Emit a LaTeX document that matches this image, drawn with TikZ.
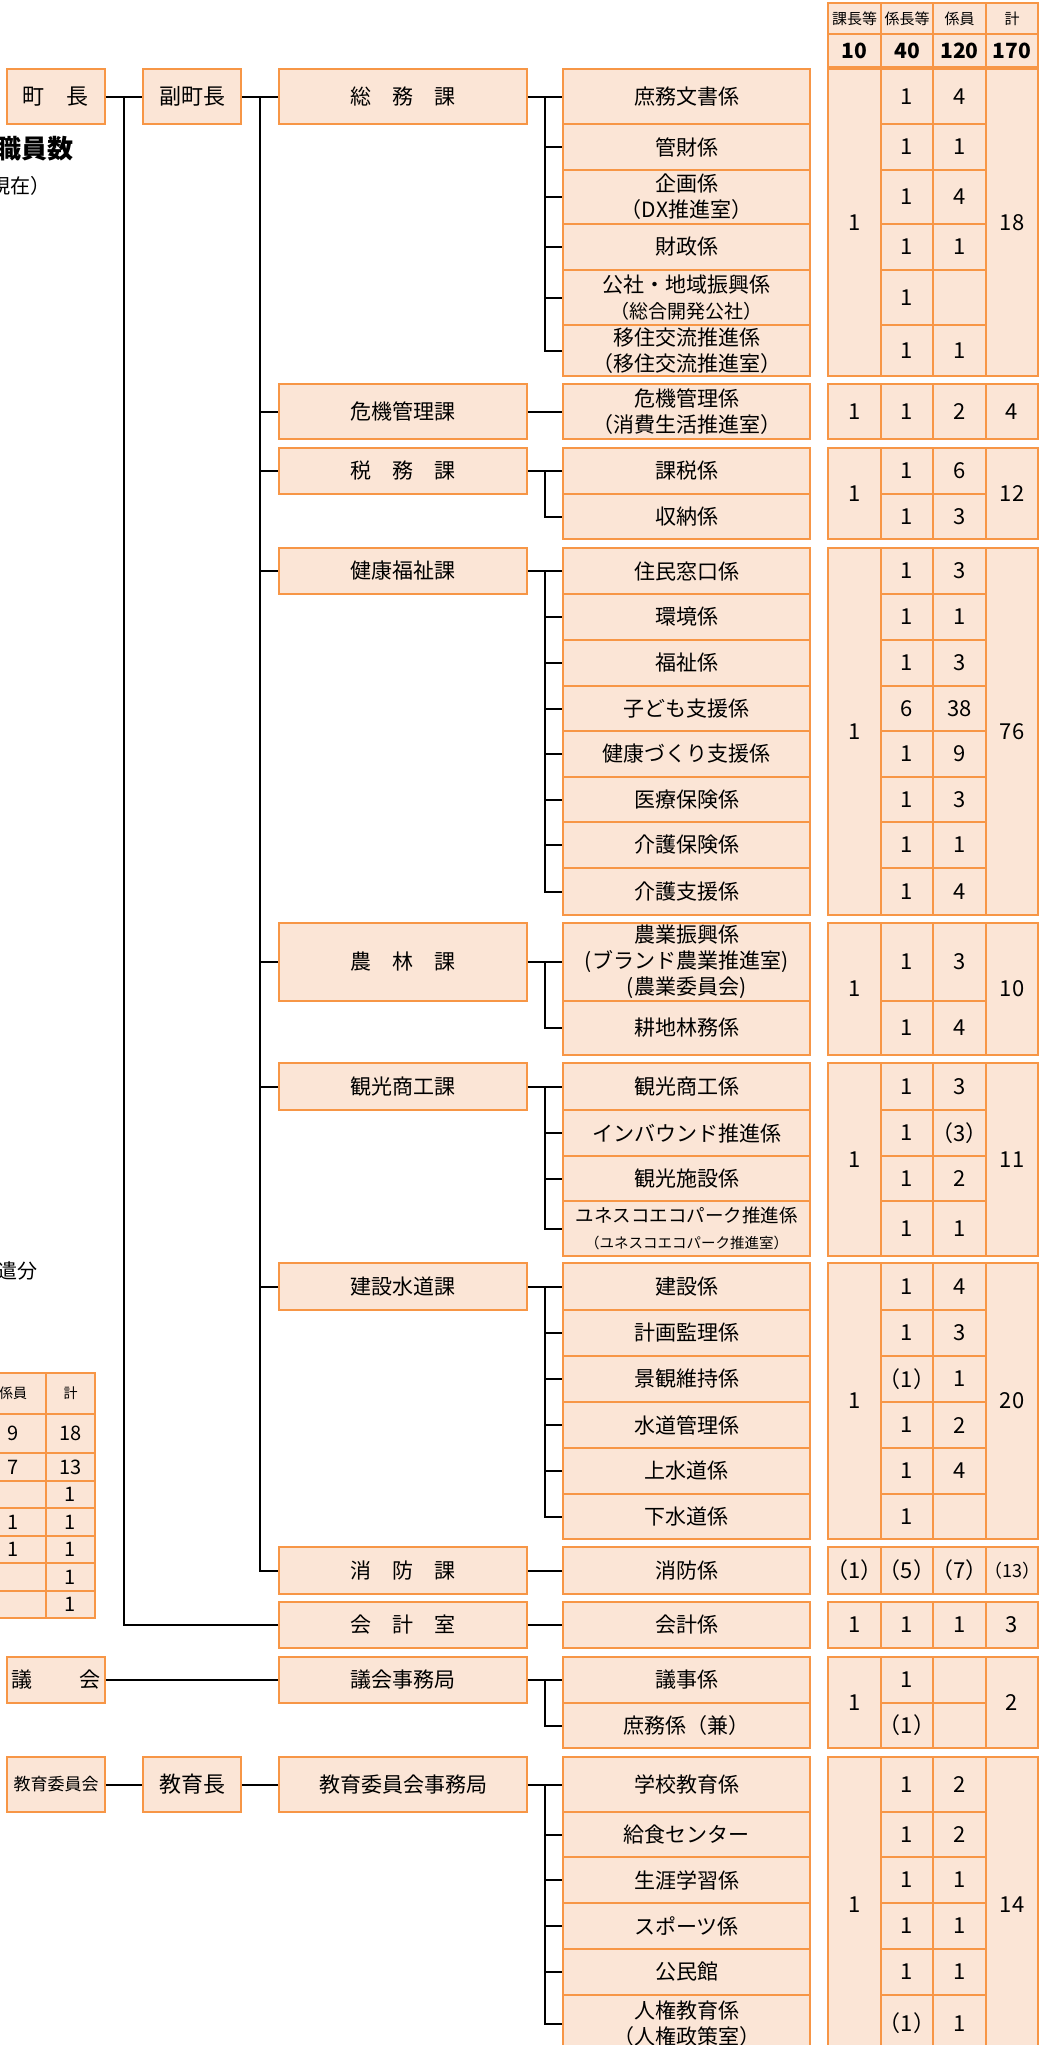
\documentclass[tikz,border=0pt]{standalone}
\usepackage{fontspec}
\setmainfont{Noto Sans CJK JP}
\usepackage{tikz}
\definecolor{waku}{HTML}{F79646}
\definecolor{hada}{HTML}{FBE5D6}
\newcounter{kz}
\tikzset{
  hako/.style={draw=waku, fill=hada, line width=1.5pt, inner sep=0pt, align=center, font=\fontsize{21}{26}\selectfont},
  masu/.style={draw=waku, fill=hada, line width=1.5pt},
  kazu/.style={inner sep=0pt, font=\fontsize{22}{26}\selectfont},
  sen/.style={line width=2pt},
}
% box from (x1,y1) to (x2,y2)
\newcommand{\hakobox}[6]{\node[hako, minimum width={#4-#2}, minimum height={#5-#3}] (#1) at ({(#2+#4)/2},{(#3+#5)/2}) {#6};}
\newcommand{\masubox}[6][]{\draw[masu] (#2,#3) rectangle (#4,#5); \stepcounter{kz}\node[kazu,#1] (kz\arabic{kz}) at ({(#2+#4)/2},{(#3+#5)/2}) {#6};}
% section: ka node, top, bottom, kacho, total, rows
\newcommand{\kakari}[6]{%
  \masubox{828}{#2}{881}{#3}{#4}
  \masubox{986}{#2}{1038}{#3}{#5}
  \foreach \nm/\ya/\yb/\txt/\va/\vb [count=\cnt] in {#6} {
    \hakobox{\nm}{563}{\ya}{810}{\yb}{\txt}
    \masubox{881}{\ya}{933}{\yb}{\va}
    \masubox{933}{\ya}{986}{\yb}{\vb}
    \ifnum\cnt=1 \draw[sen] (#1.east) -- (\nm.west); \else \draw[sen] (#1.east -| bunki) |- (\nm.west); \fi
  }
}

\begin{document}
\begin{tikzpicture}[x=1pt,y=-1pt]
  \useasboundingbox (0,0) rectangle (1051,2045);
  \clip (0,0) rectangle (1051,2045);
  \coordinate (miki1) at (124,0);
  \coordinate (miki2) at (260,0);
  \coordinate (bunki) at (545,0);

  \node[font=\fontsize{26}{30}\selectfont\bfseries, anchor=east, inner sep=0pt] (midashi) at (74,149) {職員数};
  \node[font=\fontsize{20}{24}\selectfont, anchor=east, inner sep=0pt] (genzai) at (51,186) {現在）};
  \node[font=\fontsize{20}{24}\selectfont, anchor=east, inner sep=0pt] (haken) at (38,1271) {遣分};

  % header
  \masubox[font=\fontsize{15}{18}\selectfont]{828}{3}{881}{34}{課長等}
  \masubox[font=\fontsize{15}{18}\selectfont]{881}{3}{933}{34}{係長等}
  \masubox[font=\fontsize{15}{18}\selectfont]{933}{3}{986}{34}{係員}
  \masubox[font=\fontsize{15}{18}\selectfont]{986}{3}{1038}{34}{計}
  \masubox[font=\fontsize{21}{24}\selectfont\bfseries]{828}{34}{881}{67}{10}
  \masubox[font=\fontsize{21}{24}\selectfont\bfseries]{881}{34}{933}{67}{40}
  \masubox[font=\fontsize{21}{24}\selectfont\bfseries]{933}{34}{986}{67}{120}
  \masubox[font=\fontsize{21}{24}\selectfont\bfseries]{986}{34}{1038}{67}{170}

  % left table
  \masubox[font=\fontsize{14}{17}\selectfont]{-20}{1373}{46}{1414}{係員}
  \masubox[font=\fontsize{14}{17}\selectfont]{46}{1373}{95}{1414}{計}
  \foreach \ya/\yb/\va/\vb in {1414/1453/9/18, 1453/1481/7/13, 1481/1508//1, 1508/1536/1/1, 1536/1563/1/1, 1563/1591//1, 1591/1618//1} {
    \masubox[font=\fontsize{20}{24}\selectfont]{-20}{\ya}{46}{\yb}{\va}
    \masubox[font=\fontsize{20}{24}\selectfont]{46}{\ya}{95}{\yb}{\vb}
  }

  \hakobox{chocho}{7}{69}{105}{124}{\fontsize{22}{26}\selectfont 町　長}
  \hakobox{fuku}{143}{69}{241}{124}{\fontsize{22}{26}\selectfont 副町長}
  \hakobox{gikai}{7}{1657}{105}{1703}{議\hspace{47pt}会}
  \hakobox{kyoi}{7}{1757}{105}{1812}{\fontsize{17}{20}\selectfont 教育委員会}
  \hakobox{kyoikucho}{143}{1757}{241}{1812}{\fontsize{22}{26}\selectfont 教育長}

  \hakobox{somu}{279}{69}{527}{124}{総　務　課}
  \hakobox{kiki}{279}{384}{527}{439}{危機管理課}
  \hakobox{zeimu}{279}{448}{527}{494}{税　務　課}
  \hakobox{kenko}{279}{548}{527}{594}{健康福祉課}
  \hakobox{norin}{279}{923}{527}{1001}{農　林　課}
  \hakobox{kanko}{279}{1063}{527}{1110}{観光商工課}
  \hakobox{kensetsu}{279}{1263}{527}{1310}{建設水道課}
  \hakobox{shobo}{279}{1547}{527}{1594}{消　防　課}
  \hakobox{kaikei}{279}{1602}{527}{1648}{会　計　室}
  \hakobox{gikaijim}{279}{1657}{527}{1703}{議会事務局}
  \hakobox{kyoijim}{279}{1757}{527}{1812}{教育委員会事務局}

  \draw[sen] (chocho) -- (fuku);
  \draw[sen] (chocho.east -| miki1) |- (kaikei.west);
  \draw[sen] (fuku) -- (somu);
  \foreach \k in {kiki,zeimu,kenko,norin,kanko,kensetsu,shobo}
    \draw[sen] (fuku.east -| miki2) |- (\k.west);
  \draw[sen] (gikai) -- (gikaijim);
  \draw[sen] (kyoi) -- (kyoikucho);
  \draw[sen] (kyoikucho) -- (kyoijim);

  \kakari{somu}{69}{376}{1}{18}{shomu/69/124/庶務文書係/1/4, kanzai/124/170/管財係/1/1, kikaku/170/224/{企画係\\（DX推進室）}/1/4, zaisei/224/270/財政係/1/1, kosha/270/325/{公社・地域振興係\\{\fontsize{19}{24}\selectfont（総合開発公社）}}/1/, iju/325/376/{移住交流推進係\\（移住交流推進室）}/1/1}
  \kakari{kiki}{384}{439}{1}{4}{kikikanri/384/439/{危機管理係\\（消費生活推進室）}/1/2}
  \kakari{zeimu}{448}{539}{1}{12}{kazei/448/494/課税係/1/6, shuno/494/539/収納係/1/3}
  \kakari{kenko}{548}{915}{1}{76}{jumin/548/594/住民窓口係/1/3, kankyo/594/640/環境係/1/1, fukushi/640/686/福祉係/1/3, kodomo/686/731/子ども支援係/6/38, kenkozukuri/731/777/健康づくり支援係/1/9, iryo/777/822/医療保険係/1/3, kaigohoken/822/868/介護保険係/1/1, kaigoshien/868/915/介護支援係/1/4}
  \kakari{norin}{923}{1055}{1}{10}{nogyo/923/1001/{農業振興係\\(ブランド農業推進室)\\(農業委員会)}/1/3, kochi/1001/1055/耕地林務係/1/4}
  \kakari{kanko}{1063}{1256}{1}{11}{kankosho/1063/1110/観光商工係/1/3, inbound/1110/1156/インバウンド推進係/1/（3）, shisetsu/1156/1201/観光施設係/1/2, unesco/1201/1256/{\fontsize{18.5}{22}\selectfont ユネスコエコパーク推進係\\{\fontsize{14.5}{18}\selectfont（ユネスコエコパーク推進室）}}/1/1}
  \kakari{kensetsu}{1263}{1539}{1}{20}{kensetsukei/1263/1310/建設係/1/4, keikaku/1310/1356/計画監理係/1/3, keikan/1356/1402/景観維持係/（1）/1, suido/1402/1448/水道管理係/1/2, josui/1448/1494/上水道係/1/4, gesui/1494/1539/下水道係/1/}
  \kakari{shobo}{1547}{1594}{（1）}{{\fontsize{18}{22}\selectfont（13）}}{shobokei/1547/1594/消防係/（5）/（7）}
  \kakari{kaikei}{1602}{1648}{1}{3}{kaikeikei/1602/1648/会計係/1/1}
  \kakari{gikaijim}{1657}{1748}{1}{2}{giji/1657/1703/議事係/1/, shomugi/1703/1748/庶務係（兼）/（1）/}
  \kakari{kyoijim}{1757}{2052}{1}{14}{gakko/1757/1812/学校教育係/1/2, kyushoku/1812/1857/給食センター/1/2, shogai/1857/1903/生涯学習係/1/1, sports/1903/1949/スポーツ係/1/1, kominkan/1949/1995/公民館/1/1, jinken/1995/2052/{人権教育係\\（人権政策室）}/（1）/1}
\end{tikzpicture}
\end{document}
